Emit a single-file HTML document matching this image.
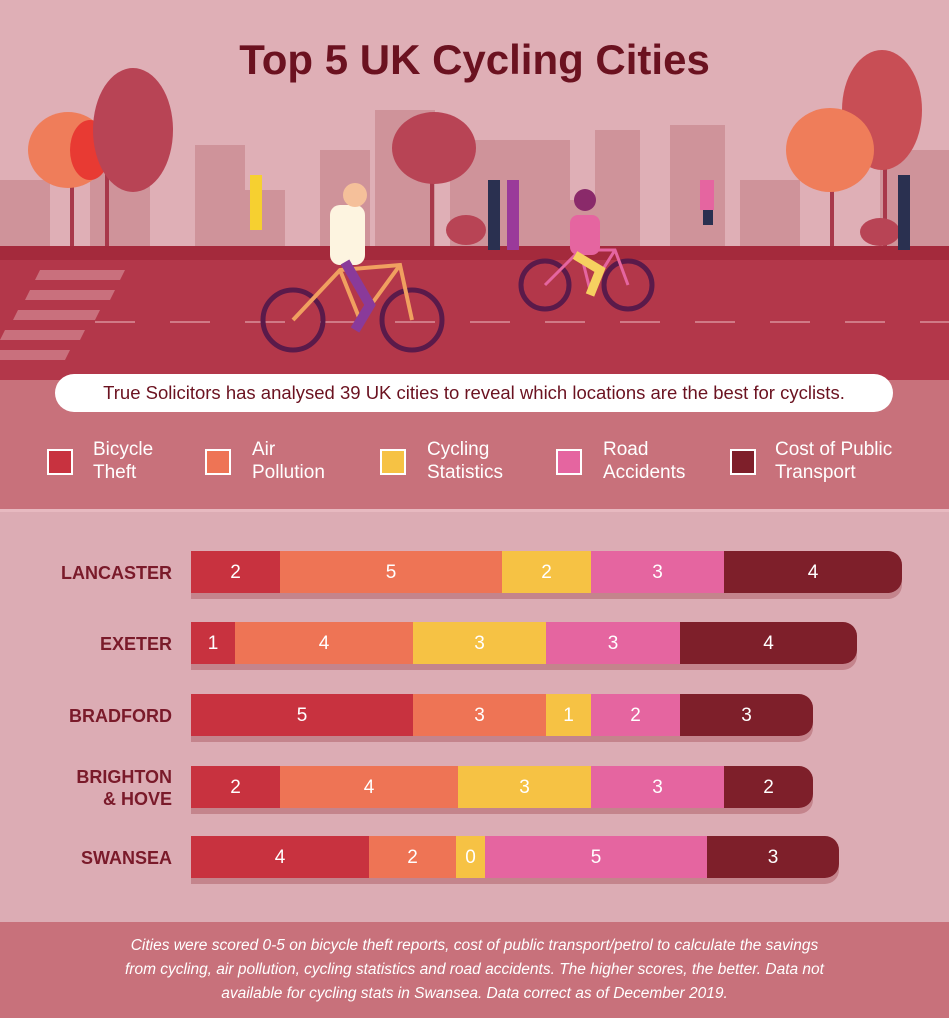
<!DOCTYPE html>
<html><head><meta charset="utf-8"><style>
body{margin:0;width:949px;height:1018px;overflow:hidden;font-family:"Liberation Sans",sans-serif;background:#dcacb4;position:relative}
.abs{position:absolute}
.bar{position:absolute;height:42px;display:flex;box-shadow:0 6px 0 #c4848c;border-radius:0 14px 14px 0;overflow:hidden;left:191px}
.bar div{height:42px;line-height:44px;color:#fff;text-align:center;font-size:19px}
.r{background:#c8323f}.o{background:#ee7455}.y{background:#f6c244}.p{background:#e565a0}.m{background:#7e1f2a}
.city{position:absolute;right:777px;color:#7a1a2a;font-weight:bold;font-size:18px;text-align:right;line-height:22px}
.lg{position:absolute;top:449px;width:26px;height:26px;border:2px solid #fff;box-sizing:border-box}
.lt{position:absolute;top:438px;color:#fff;font-size:19px;line-height:23px}
</style></head><body>
<svg class="abs" style="left:0;top:0" width="949" height="512">
<rect width="949" height="512" fill="#c8717b"/>
<rect width="949" height="250" fill="#dfafb6"/>
<g fill="#cf939a">
<rect x="0" y="180" width="50" height="70"/><rect x="90" y="150" width="60" height="100"/><rect x="195" y="145" width="50" height="105"/>
<rect x="245" y="190" width="40" height="60"/><rect x="320" y="150" width="50" height="100"/><rect x="375" y="110" width="60" height="140"/>
<rect x="450" y="140" width="120" height="110"/><rect x="595" y="130" width="45" height="120"/><rect x="670" y="125" width="55" height="125"/>
<rect x="740" y="180" width="60" height="70"/><rect x="880" y="150" width="69" height="100"/><rect x="540" y="200" width="60" height="50"/></g>
<g fill="#a8384a"><rect x="105" y="120" width="4" height="128"/><rect x="70" y="150" width="4" height="98"/><rect x="430" y="150" width="4" height="98"/><rect x="830" y="150" width="4" height="98"/><rect x="883" y="110" width="4" height="138"/></g>
<ellipse cx="68" cy="150" rx="40" ry="38" fill="#ef7d5a"/><ellipse cx="90" cy="150" rx="20" ry="30" fill="#e83a33"/>
<ellipse cx="133" cy="130" rx="40" ry="62" fill="#b84455"/>
<ellipse cx="434" cy="148" rx="42" ry="36" fill="#b84455"/>
<ellipse cx="882" cy="110" rx="40" ry="60" fill="#c84e55"/>
<ellipse cx="830" cy="150" rx="44" ry="42" fill="#ef7d5a"/>
<ellipse cx="466" cy="230" rx="20" ry="15" fill="#b84455"/><ellipse cx="880" cy="232" rx="20" ry="14" fill="#b84455"/>
<rect x="0" y="246" width="949" height="14" fill="#a42a3c"/>
<rect x="0" y="260" width="949" height="120" fill="#b3374a"/>
<g fill="#c9707d"><polygon points="40,270 125,270 120,280 35,280"/><polygon points="30,290 115,290 110,300 25,300"/><polygon points="18,310 100,310 95,320 13,320"/><polygon points="5,330 85,330 80,340 0,340"/><polygon points="0,350 70,350 65,360 0,360"/></g>
<g stroke="#d07a86" stroke-width="2"><line x1="95" y1="322" x2="949" y2="322" stroke-dasharray="40,35"/></g>
<g fill="none" stroke="#5a1a4a" stroke-width="5"><circle cx="293" cy="320" r="30"/><circle cx="412" cy="320" r="30"/><circle cx="545" cy="285" r="24"/><circle cx="628" cy="285" r="24"/></g>
<g fill="none" stroke="#f0a060" stroke-width="4"><path d="M293 320 L340 270 L400 265 L412 320 M340 270 L360 320 L400 265"/></g>
<g fill="none" stroke="#e565a0" stroke-width="3"><path d="M545 285 L580 250 L615 250 L628 285 M580 250 L590 290 L615 250"/></g>
<rect x="330" y="205" width="35" height="60" rx="10" fill="#fdf4e0"/><circle cx="355" cy="195" r="12" fill="#f5c09a"/><path d="M345 262 L370 305 L355 330" stroke="#8a3a9a" stroke-width="10" fill="none"/>
<rect x="570" y="215" width="30" height="40" rx="8" fill="#e565a0"/><circle cx="585" cy="200" r="11" fill="#8a2a6a"/><path d="M575 255 L600 270 L590 295" stroke="#f6d060" stroke-width="9" fill="none"/>
<g fill="#2a3050"><rect x="488" y="180" width="12" height="70"/><rect x="898" y="175" width="12" height="75"/><rect x="703" y="205" width="10" height="20"/></g>
<rect x="507" y="180" width="12" height="70" fill="#9a3a9a"/><rect x="250" y="175" width="12" height="55" fill="#f6d030"/>
<rect x="700" y="180" width="14" height="30" fill="#e565a0"/>
<rect x="55" y="374" width="838" height="38" rx="19" fill="#fff"/>
<line x1="0" y1="511" x2="949" y2="511" stroke="#e7b9c0" stroke-width="4"/>
</svg>
<div class="abs" style="left:0;top:36px;width:949px;text-align:center;color:#6b1220;font-weight:bold;font-size:42px">Top 5 UK Cycling Cities</div>
<div class="abs" style="left:55px;top:374px;width:838px;line-height:38px;text-align:center;color:#6b1220;font-size:18.5px">True Solicitors has analysed 39 UK cities to reveal which locations are the best for cyclists.</div>
<div class="lg r" style="left:47px"></div><div class="lt" style="left:93px">Bicycle<br>Theft</div>
<div class="lg o" style="left:205px"></div><div class="lt" style="left:252px">Air<br>Pollution</div>
<div class="lg y" style="left:380px"></div><div class="lt" style="left:427px">Cycling<br>Statistics</div>
<div class="lg p" style="left:556px"></div><div class="lt" style="left:603px">Road<br>Accidents</div>
<div class="lg m" style="left:730px"></div><div class="lt" style="left:775px">Cost of Public<br>Transport</div>

<div class="city" style="top:562px">LANCASTER</div>
<div class="bar" style="top:551px"><div class="r" style="width:89px">2</div><div class="o" style="width:222px">5</div><div class="y" style="width:89px">2</div><div class="p" style="width:133px">3</div><div class="m" style="width:178px">4</div></div>
<div class="city" style="top:633px">EXETER</div>
<div class="bar" style="top:622px"><div class="r" style="width:44px">1</div><div class="o" style="width:178px">4</div><div class="y" style="width:133px">3</div><div class="p" style="width:134px">3</div><div class="m" style="width:177px">4</div></div>
<div class="city" style="top:705px">BRADFORD</div>
<div class="bar" style="top:694px"><div class="r" style="width:222px">5</div><div class="o" style="width:133px">3</div><div class="y" style="width:45px">1</div><div class="p" style="width:89px">2</div><div class="m" style="width:133px">3</div></div>
<div class="city" style="top:766px">BRIGHTON<br>&amp; HOVE</div>
<div class="bar" style="top:766px"><div class="r" style="width:89px">2</div><div class="o" style="width:178px">4</div><div class="y" style="width:133px">3</div><div class="p" style="width:133px">3</div><div class="m" style="width:89px">2</div></div>
<div class="city" style="top:847px">SWANSEA</div>
<div class="bar" style="top:836px"><div class="r" style="width:178px">4</div><div class="o" style="width:87px">2</div><div class="y" style="width:29px">0</div><div class="p" style="width:222px">5</div><div class="m" style="width:132px">3</div></div>

<div class="abs" style="left:0;top:922px;width:949px;height:96px;background:#c8717b"></div>
<div class="abs" style="left:114px;top:934px;width:721px;text-align:center;color:#fff;font-style:italic;font-size:15.5px;line-height:24px">Cities were scored 0-5 on bicycle theft reports, cost of public transport/petrol to calculate the savings from cycling, air pollution, cycling statistics and road accidents. The higher scores, the better. Data not available for cycling stats in Swansea. Data correct as of December 2019.</div>
</body></html>
